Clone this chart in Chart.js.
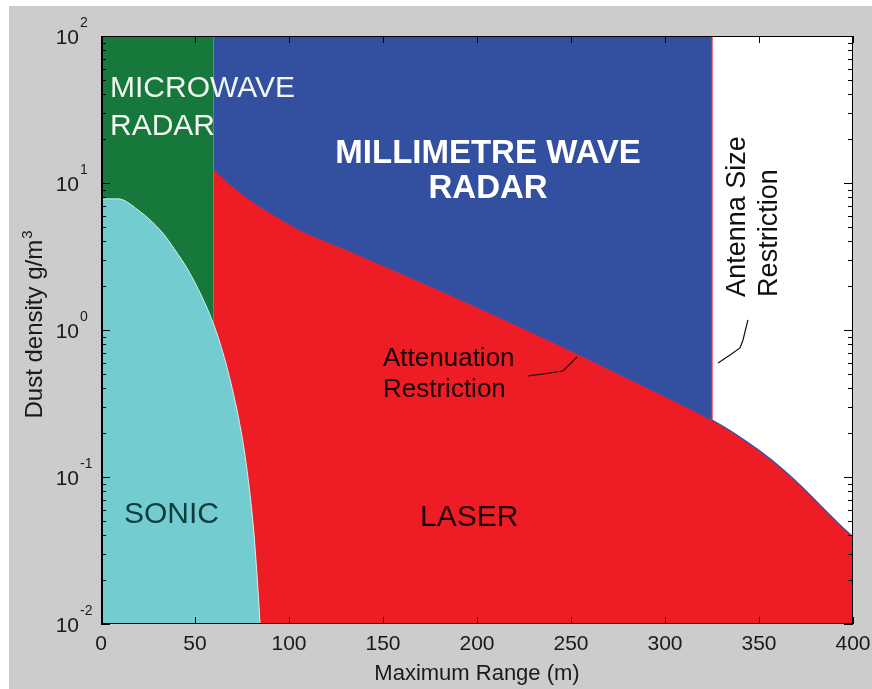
<!DOCTYPE html>
<html><head><meta charset="utf-8">
<script src="https://cdn.jsdelivr.net/npm/chart.js@4.4.1/dist/chart.umd.min.js"></script>
<style>html,body{margin:0;padding:0;background:#fff;}#wrap{width:872px;height:689px;position:relative;}canvas{display:block}</style>
</head><body><div id="wrap"><canvas id="c" width="872" height="689" style="width:872px;height:689px"></canvas></div>
<script>
// ---- data (x: maximum range in m, y: dust density in g/m^3) ----
const sonicX = [0, 9, 19.7, 32.4, 39.4, 46.3, 53.7, 59.6, 63.3, 69.1, 75.3, 79.0, 81.2, 82.3, 84.1, 84.6];
const sonicY = [7.8, 7.8, 6.55, 4.64, 3.5, 2.56, 1.68, 1.12, 0.816, 0.436, 0.179, 0.0816, 0.0436, 0.0286, 0.013, 0.01];
const attenX = [60, 68.6, 81.9, 95.7, 105.9, 132.4, 159, 185.6, 212.2, 238.8, 265.4, 292, 325, 336.2, 350.5, 361.2, 371.8, 382.4, 393.1, 400];
const attenY = [12.45, 9.85, 7.31, 5.69, 4.79, 3.45, 2.46, 1.74, 1.22, 0.847, 0.582, 0.398, 0.244, 0.201, 0.150, 0.117, 0.0882, 0.0645, 0.0472, 0.0391];
const microwaveX = [0, 60];
const millimetreX = [60, 325];
const antennaX = [325, 400];
const topY = 100;
const antennaLimitX = 325;
const antennaLimitY = [100, 0.244];
const attLeaderX = [227.1, 235.1, 245.7, 248.4, 253.2];
const attLeaderY = [0.487, 0.502, 0.526, 0.569, 0.655];
const antLeaderX = [328.2, 334.6, 339.9, 341.5, 344.1];
const antLeaderY = [0.597, 0.676, 0.755, 0.855, 1.17];
const xTickValues = [0, 50, 100, 150, 200, 250, 300, 350, 400];
const yExponents = [-2, -1, 0, 1, 2];
const yMinorMultipliers = [2, 3, 4, 5, 6, 7, 8, 9];
const xTitle = 'Maximum Range (m)';
const yTitle = 'Dust density g/m';
const yTitleSup = '3';

// ---- styles ----
const GREEN = '#16793b', BLUE = '#334f9f', RED = '#ee1d25', CYAN = '#73cdd0', GRAY = '#cccccc';
const FONT = "'Liberation Sans', Arial, Helvetica, sans-serif";

const pts = (xs, ys) => xs.map((x, i) => ({x, y: ys[i]}));
const flat = (xs, y) => xs.map(x => ({x, y}));

const labels = [
  {text: 'MICROWAVE', x: 4.8, y: 38.5, font: '30px', color: '#f2f5f2', align: 'left'},
  {text: 'RADAR', x: 4.8, y: 21.2, font: '30px', color: '#f2f5f2', align: 'left'},
  {text: 'MILLIMETRE WAVE', x: 205.9, y: 13.7, font: 'bold 33px', color: '#ffffff', align: 'center'},
  {text: 'RADAR', x: 205.9, y: 7.9, font: 'bold 33px', color: '#ffffff', align: 'center'},
  {text: 'Attenuation', x: 150, y: 0.569, font: '26px', color: '#1a0606', align: 'left'},
  {text: 'Restriction', x: 150, y: 0.35, font: '26px', color: '#1a0606', align: 'left'},
  {text: 'SONIC', x: 12.2, y: 0.0486, font: '30px', color: '#0c3d3d', align: 'left'},
  {text: 'LASER', x: 169.7, y: 0.0464, font: '30px', color: '#220606', align: 'left'},
  {text: 'Antenna Size', x: 342.6, y: 1.68, font: '27px', color: '#111111', align: 'left', rot: true},
  {text: 'Restriction', x: 359.6, y: 1.68, font: '27px', color: '#111111', align: 'left', rot: true}
];

const overlay = {
  id: 'overlay',
  beforeDraw(chart) {
    const ctx = chart.ctx;
    ctx.save();
    ctx.fillStyle = '#ffffff';
    ctx.fillRect(0, 0, chart.width, chart.height);
    ctx.fillStyle = GRAY;
    ctx.fillRect(9, 6, chart.width - 9, chart.height - 6);
    ctx.restore();
  },
  afterDatasetsDraw(chart) {
    const ctx = chart.ctx;
    const xs = chart.scales.x, ys = chart.scales.y;
    const {left, right, top, bottom} = chart.chartArea;
    ctx.save();
    labels.forEach(l => {
      ctx.save();
      ctx.font = l.font + ' ' + FONT;
      ctx.fillStyle = l.color;
      ctx.textAlign = l.align;
      ctx.textBaseline = 'alphabetic';
      const px = xs.getPixelForValue(l.x), py = ys.getPixelForValue(l.y);
      if (l.rot) {
        ctx.translate(px, py);
        ctx.rotate(-Math.PI / 2);
        ctx.fillText(l.text, 0, 0);
      } else {
        ctx.fillText(l.text, px, py);
      }
      ctx.restore();
    });
    ctx.strokeStyle = '#000';
    ctx.lineWidth = 1;
    ctx.beginPath();
    ctx.moveTo(left + 0.5, top + 0.5); ctx.lineTo(right - 0.5, top + 0.5);
    ctx.lineTo(right - 0.5, bottom - 0.5); ctx.lineTo(left + 0.5, bottom - 0.5);
    ctx.closePath();
    ctx.stroke();
    ctx.lineWidth = 2;
    ctx.beginPath(); ctx.moveTo(left + 1, top); ctx.lineTo(left + 1, bottom); ctx.stroke();
    ctx.lineWidth = 1;
    ctx.beginPath();
    xTickValues.forEach(v => {
      const p = Math.round(xs.getPixelForValue(v)) + 0.5;
      ctx.moveTo(p, bottom); ctx.lineTo(p, bottom - 7);
      ctx.moveTo(p, top); ctx.lineTo(p, top + 7);
    });
    yExponents.forEach(e => {
      const p = Math.round(ys.getPixelForValue(Math.pow(10, e))) + 0.5;
      ctx.moveTo(left, p); ctx.lineTo(left + 9, p);
      ctx.moveTo(right, p); ctx.lineTo(right - 9, p);
      if (e < 2) {
        yMinorMultipliers.forEach(m => {
          const q = Math.round(ys.getPixelForValue(m * Math.pow(10, e))) + 0.5;
          ctx.moveTo(left, q); ctx.lineTo(left + 5, q);
          ctx.moveTo(right, q); ctx.lineTo(right - 5, q);
        });
      }
    });
    ctx.stroke();
    ctx.fillStyle = '#1a1a1a';
    yExponents.forEach(e => {
      const p = ys.getPixelForValue(Math.pow(10, e));
      ctx.font = '21px ' + FONT;
      ctx.textAlign = 'right';
      ctx.textBaseline = 'alphabetic';
      ctx.fillText('10', left - 22, p + 8);
      ctx.font = '14px ' + FONT;
      ctx.textAlign = 'left';
      ctx.fillText(String(e), left - 21, p - 9);
    });
    ctx.save();
    ctx.translate(42, (top + bottom) / 2 - 5);
    ctx.rotate(-Math.PI / 2);
    ctx.font = '24px ' + FONT;
    const w1 = ctx.measureText(yTitle).width;
    ctx.font = '15px ' + FONT;
    const w2 = ctx.measureText(yTitleSup).width;
    const start = -(w1 + w2) / 2;
    ctx.textAlign = 'left';
    ctx.font = '24px ' + FONT;
    ctx.fillText(yTitle, start, 0);
    ctx.font = '15px ' + FONT;
    ctx.fillText(yTitleSup, start + w1 + 1, -10);
    ctx.restore();
    ctx.restore();
  }
};

const lineDs = (data, opts) => Object.assign({
  data, pointRadius: 0, borderWidth: 0, tension: 0, fill: false
}, opts);

new Chart(document.getElementById('c'), {
  type: 'line',
  data: {
    datasets: [
      lineDs(flat(microwaveX, topY), {fill: 'start', backgroundColor: GREEN, borderColor: GREEN, order: 10}),
      lineDs(flat(millimetreX, topY), {fill: 'start', backgroundColor: BLUE, borderColor: BLUE, order: 9}),
      lineDs(flat(antennaX, topY), {fill: 'start', backgroundColor: '#ffffff', borderColor: '#ffffff', order: 8}),
      lineDs(pts(attenX, attenY), {fill: 'start', backgroundColor: RED, borderColor: '#3550b0', borderWidth: 1.3, cubicInterpolationMode: 'monotone', order: 5}),
      lineDs(antennaLimitY.map(y => ({x: antennaLimitX, y})), {borderColor: '#e8323c', borderWidth: 1.3, order: 4}),
      lineDs(pts(sonicX, sonicY), {fill: 'start', backgroundColor: CYAN, borderColor: '#d9eeee', borderWidth: 1, cubicInterpolationMode: 'monotone', order: 3}),
      lineDs(pts(attLeaderX, attLeaderY), {borderColor: '#111', borderWidth: 1.2, order: 1}),
      lineDs(pts(antLeaderX, antLeaderY), {borderColor: '#111', borderWidth: 1.2, order: 1})
    ]
  },
  options: {
    responsive: false,
    maintainAspectRatio: false,
    animation: false,
    devicePixelRatio: 1,
    layout: {padding: {left: 0, right: 19, top: 36, bottom: 0}},
    plugins: {legend: {display: false}, tooltip: {enabled: false}},
    scales: {
      x: {
        type: 'linear', min: 0, max: 400,
        grid: {display: false, drawTicks: false},
        border: {display: false},
        afterBuildTicks: s => { s.ticks = xTickValues.map(v => ({value: v})); },
        afterFit: s => { s.height = 65; s.paddingLeft = 0; s.paddingRight = 0; },
        ticks: {autoSkip: false, maxRotation: 0, padding: 8, color: '#1a1a1a', font: {family: FONT, size: 21}},
        title: {display: true, text: xTitle, color: '#1a1a1a', font: {family: FONT, size: 22}, padding: {top: 0, bottom: 2}}
      },
      y: {
        type: 'logarithmic', min: 0.01, max: 100,
        grid: {display: false, drawTicks: false},
        border: {display: false},
        ticks: {display: false},
        afterFit: s => { s.width = 101; s.paddingTop = 0; s.paddingBottom = 0; }
      }
    }
  },
  plugins: [overlay]
});
</script>
</body></html>
